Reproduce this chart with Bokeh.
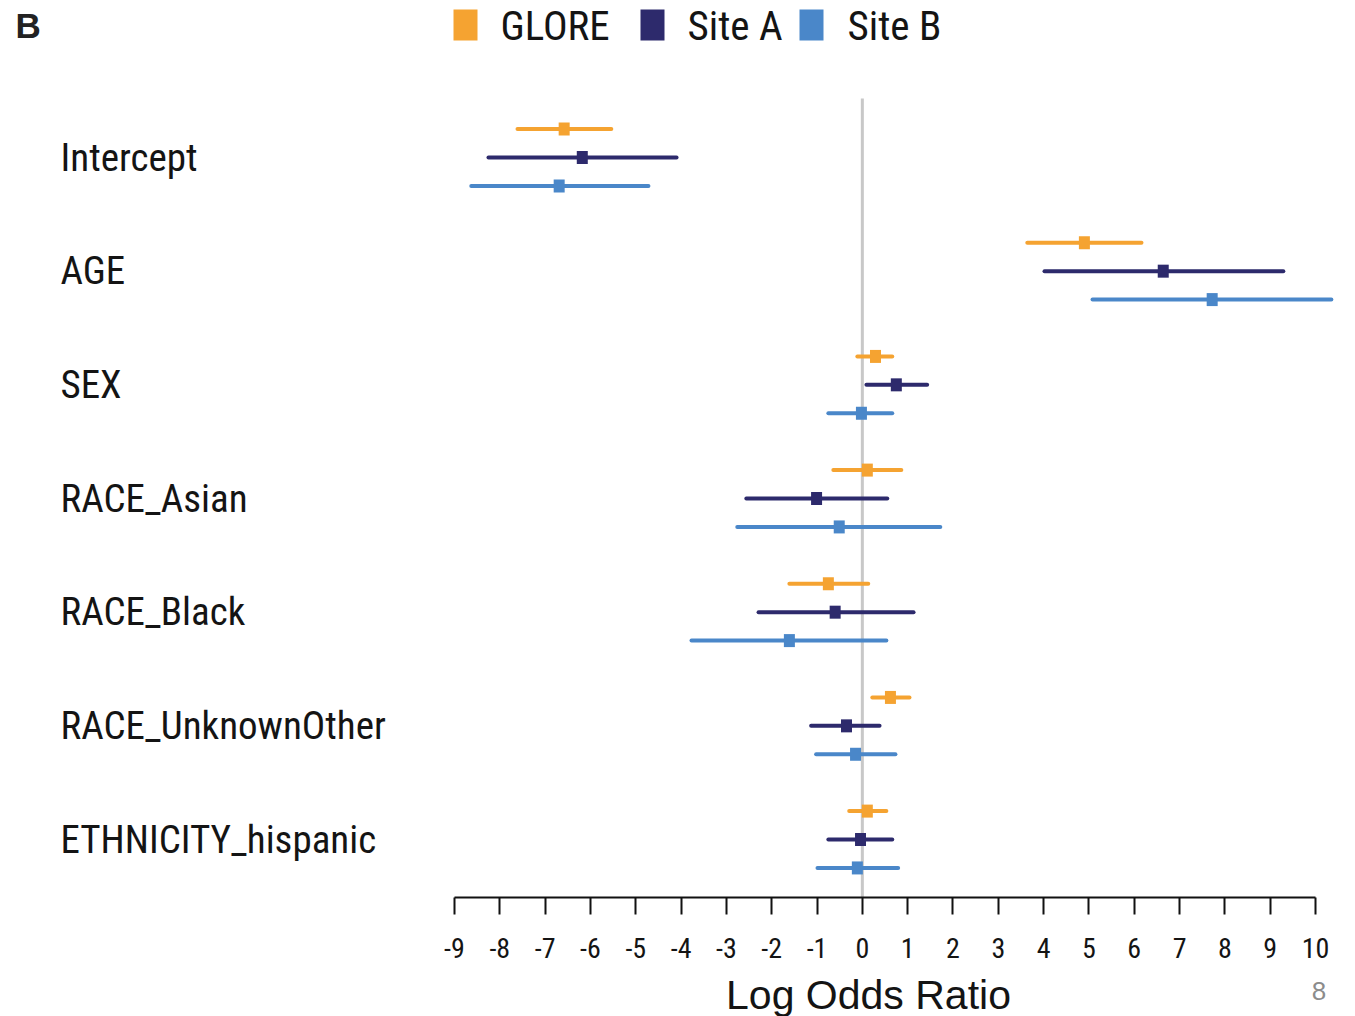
from bokeh.plotting import figure
from bokeh.models import Range1d, FixedTicker, ColumnDataSource
from bokeh.embed import file_html
from bokeh.resources import INLINE
from bokeh.core.properties import value

# ---------------- data ----------------
categories = ["Intercept", "AGE", "SEX", "RACE_Asian", "RACE_Black",
              "RACE_UnknownOther", "ETHNICITY_hispanic"]
series_names = ["GLORE", "Site A", "Site B"]

glore_est = [-6.58, 4.90, 0.29, 0.11, -0.75, 0.62, 0.11]
glore_lo = [-7.61, 3.64, -0.11, -0.64, -1.61, 0.22, -0.29]
glore_hi = [-5.54, 6.16, 0.66, 0.86, 0.13, 1.04, 0.53]

sitea_est = [-6.18, 6.64, 0.75, -1.01, -0.60, -0.35, -0.04]
sitea_lo = [-8.25, 4.02, 0.09, -2.56, -2.29, -1.13, -0.75]
sitea_hi = [-4.10, 9.29, 1.43, 0.55, 1.13, 0.38, 0.66]

siteb_est = [-6.69, 7.72, -0.02, -0.51, -1.61, -0.15, -0.11]
siteb_lo = [-8.63, 5.08, -0.75, -2.76, -3.77, -1.02, -0.99]
siteb_hi = [-4.72, 10.35, 0.66, 1.72, 0.53, 0.73, 0.79]

x_ticks = list(range(-9, 11))
x_label = "Log Odds Ratio"
page_number = "8"
panel_letter = "B"

# ---------------- style / layout ----------------
colors = ["#F5A331", "#2D2A6C", "#4A87C9"]
offsets = [0.25, 0.0, -0.25]
REG = "Liberation Sans"
COND = "Roboto Condensed"
TXT = "#141414"

W, H = 1355, 1016
PPU_X = 861 / 19.0      # screen pixels per log-odds unit
UNIT_Y = 113.67         # screen pixels per category row
x_range = Range1d(-9 - 454 / PPU_X, 10 + 40 / PPU_X)
y_range = Range1d(-(H - 157) / UNIT_Y, 157 / UNIT_Y)


def dx(px):
    return x_range.start + px / PPU_X


def dy(py):
    return y_range.end - py / UNIT_Y


p = figure(width=W, height=H, x_range=x_range, y_range=y_range,
           output_backend="svg", toolbar_location=None, y_axis_location=None,
           min_border=0, outline_line_color=None)
p.grid.visible = False

# zero reference line
p.segment(x0=[0], y0=[dy(897)], x1=[0], y1=[dy(98)], line_color="#C8C8C8", line_width=3)

group_y = [-i for i in range(len(categories))]
all_est = [glore_est, sitea_est, siteb_est]
all_lo = [glore_lo, sitea_lo, siteb_lo]
all_hi = [glore_hi, sitea_hi, siteb_hi]

for s in range(3):
    ys = [g + offsets[s] for g in group_y]
    src = ColumnDataSource(dict(y=ys, est=all_est[s], lo=all_lo[s], hi=all_hi[s]))
    p.segment(x0="lo", y0="y", x1="hi", y1="y", source=src, line_color=colors[s],
              line_width=4, line_cap="round")
    p.rect(x="est", y="y", width=11, height=13, width_units="screen", height_units="screen",
           source=src, fill_color=colors[s], line_color=None)

# x axis drawn at a fixed location inside the canvas
ax = p.xaxis[0]
ax.fixed_location = dy(897)
ax.ticker = FixedTicker(ticks=x_ticks, minor_ticks=[])
ax.bounds = (x_ticks[0], x_ticks[-1])
ax.major_label_overrides = {t: str(t) for t in x_ticks if t < 0}
ax.axis_line_width = 2
ax.axis_line_color = "#111111"
ax.major_tick_in = 0
ax.major_tick_out = 17
ax.major_tick_line_width = 2
ax.major_tick_line_color = "#111111"
ax.minor_tick_out = 0
ax.minor_tick_in = 0
ax.major_label_text_font = COND
ax.major_label_text_font_size = "28px"
ax.major_label_text_color = TXT
ax.major_label_standoff = 23

# category labels
lab_src = ColumnDataSource(dict(x=[dx(60)] * len(categories), y=group_y, t=categories))
p.text(x="x", y="y", text="t", source=lab_src, text_font=value(COND), text_font_size="39px",
       text_baseline="middle", text_align="left", text_color=TXT)

# legend
swatch_px = [465, 652, 811]
text_px = [500, 687, 847]
p.rect(x=[dx(v) for v in swatch_px], y=[dy(24.5)] * 3, width=24, height=31,
       width_units="screen", height_units="screen", fill_color=colors, line_color=None)
leg_src = ColumnDataSource(dict(x=[dx(v) for v in text_px], y=[dy(25)] * 3, t=series_names))
p.text(x="x", y="y", text="t", source=leg_src, text_font=value(COND), text_font_size="41px",
       text_baseline="middle", text_align="left", text_color=TXT)

# panel letter, axis title, page number
p.text(x=[dx(15)], y=[dy(25)], text=[panel_letter], text_font=value(REG),
       text_font_size="35px", text_font_style="bold", text_baseline="middle",
       text_color="#222222")
p.text(x=[dx(868)], y=[dy(994)], text=[x_label], text_font=value(REG),
       text_font_size="41px", text_baseline="middle", text_align="center", text_color=TXT)
p.text(x=[dx(1318.5)], y=[dy(990)], text=[page_number], text_font=value(REG),
       text_font_size="26px", text_baseline="middle", text_align="center",
       text_color="#8C8C8C")

open("out.html", "w").write(file_html(p, INLINE))
